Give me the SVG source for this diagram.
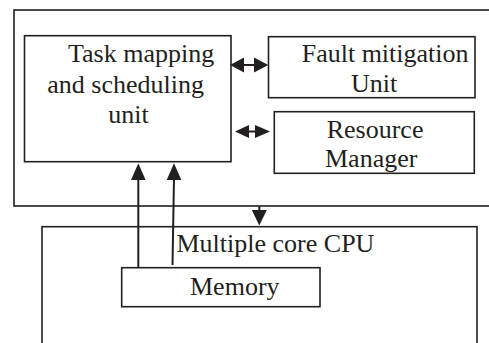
<svg xmlns="http://www.w3.org/2000/svg" width="489" height="343" viewBox="0 0 489 343" font-family="'Liberation Serif', 'Times New Roman', 'DejaVu Serif', serif">
<defs>
<style>
.box{fill:none;stroke:#231f20;stroke-width:1.6}
.lbl{font-family:'Liberation Serif','Times New Roman','DejaVu Serif',serif;font-size:26px;fill:#231f20}
.ln{stroke:#231f20;stroke-width:2;fill:none}
.hd{fill:#231f20}
</style>
</defs>
<rect width="489" height="343" fill="#ffffff"/>
<g id="outer"><rect class="box" x="14" y="10" width="495" height="196"/></g>
<g id="cpu"><rect class="box" x="42" y="226.7" width="435" height="140"/>
<text class="lbl" x="176.5" y="251.7">Multiple core CPU</text></g>
<g id="task"><rect class="box" x="24.5" y="35.7" width="206.5" height="126"/>
<text class="lbl" x="68" y="61.7">Task mapping</text>
<text class="lbl" x="47.3" y="93.3">and scheduling</text>
<text class="lbl" x="108.3" y="123">unit</text></g>
<g id="fault"><rect class="box" x="268.5" y="36.7" width="206.5" height="61"/>
<text class="lbl" x="301.7" y="61.7">Fault mitigation</text>
<text class="lbl" x="351" y="91.7">Unit</text></g>
<g id="resource"><rect class="box" x="274.3" y="111.7" width="200" height="61.6"/>
<text class="lbl" x="326.7" y="138.3">Resource</text>
<text class="lbl" x="325" y="166.7">Manager</text></g>
<g id="memory"><rect class="box" x="121.7" y="267.7" width="198.3" height="39"/>
<text class="lbl" x="190" y="295">Memory</text></g>
<g id="connectors">
<line class="ln" x1="244" y1="65" x2="254" y2="65"/>
<polygon class="hd" points="230,65 244,57.5 244,72.5"/>
<polygon class="hd" points="268.3,65 254,57.5 254,72.5"/>
<line class="ln" x1="248" y1="131.5" x2="256" y2="131.5"/>
<polygon class="hd" points="235,131.5 249,125 249,138"/>
<polygon class="hd" points="270,131.5 255,125 255,138"/>
<line class="ln" x1="138.3" y1="268" x2="138.3" y2="178"/>
<polygon class="hd" points="138.3,163.3 131,180 145.6,180"/>
<line class="ln" x1="172.5" y1="265" x2="174" y2="178"/>
<polygon class="hd" points="174,163.3 166.7,180 181.3,180"/>
<line class="ln" x1="259.3" y1="206" x2="259.3" y2="212"/>
<polygon class="hd" points="259.3,225.5 251.8,210 266.8,210"/>
</g>
</svg>
